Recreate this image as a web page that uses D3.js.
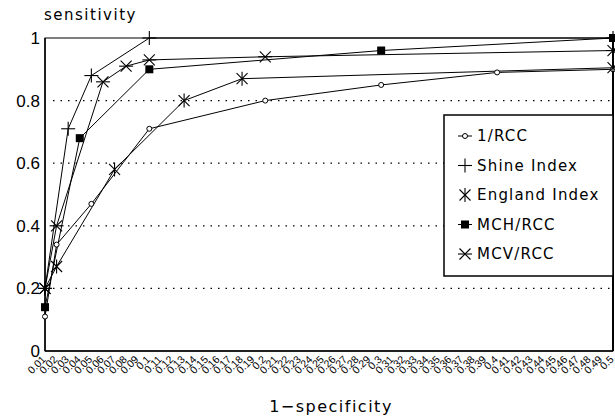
<!DOCTYPE html>
<html>
<head>
<meta charset="utf-8">
<script src="https://cdn.jsdelivr.net/npm/d3@7"></script>
<style>
  body { margin: 0; background: #fff; }
  svg { font-family: "DejaVu Sans", sans-serif; }
</style>
</head>
<body>
<div id="chart"></div>
<script>
// x categories (1 - specificity)
const xCats = ['0.01','0.02','0.03','0.04','0.05','0.06','0.07','0.08','0.09','0.1',
  '0.11','0.12','0.13','0.14','0.15','0.16','0.17','0.18','0.19','0.2',
  '0.21','0.22','0.23','0.24','0.25','0.26','0.27','0.28','0.29','0.3',
  '0.31','0.32','0.33','0.34','0.35','0.36','0.37','0.38','0.39','0.4',
  '0.41','0.42','0.43','0.44','0.45','0.46','0.47','0.48','0.49','0.5']
const yTicks = [0, 0.2, 0.4, 0.6, 0.8, 1]

// series: [x category, sensitivity]
const rcc = [['0.01', 0.11], ['0.02', 0.34], ['0.05', 0.47], ['0.1', 0.71], ['0.2', 0.8], ['0.3', 0.85], ['0.4', 0.89], ['0.5', 0.9]]
const shine = [['0.01', 0.2], ['0.03', 0.71], ['0.05', 0.88], ['0.1', 1], ['0.5', 1]]
const england = [['0.01', 0.2], ['0.02', 0.27], ['0.07', 0.58], ['0.13', 0.8], ['0.18', 0.87], ['0.5', 0.905]]
const mch = [['0.01', 0.14], ['0.04', 0.68], ['0.1', 0.9], ['0.3', 0.96], ['0.5', 1]]
const mcv = [['0.01', 0.2], ['0.02', 0.4], ['0.06', 0.86], ['0.08', 0.91], ['0.1', 0.93], ['0.2', 0.94], ['0.5', 0.96]]

const seriesNames = ['1/RCC', 'Shine Index', 'England Index', 'MCH/RCC', 'MCV/RCC']
const seriesData = [rcc, shine, england, mch, mcv]
const markerTypes = ['circle', 'plus', 'england', 'square', 'mcv']

const width = 615, height = 420
const margin = { top: 38, right: 2, bottom: 69, left: 45 }

const svg = d3.select('#chart').append('svg')
  .attr('width', width)
  .attr('height', height)

const x = d3.scalePoint().domain(xCats).range([margin.left, width - margin.right])
const y = d3.scaleLinear().domain([0, 1]).range([height - margin.bottom, margin.top])

// dotted gridlines
svg.append('g')
  .selectAll('line')
  .data([0.2, 0.4, 0.6, 0.8])
  .join('line')
  .attr('x1', margin.left + 8)
  .attr('x2', width - margin.right)
  .attr('y1', (d) => y(d))
  .attr('y2', (d) => y(d))
  .attr('stroke', '#000')
  .attr('stroke-width', 1.2)
  .attr('stroke-dasharray', '1.5,6')

// frame
svg.append('rect')
  .attr('x', margin.left)
  .attr('y', y(1))
  .attr('width', x('0.5') - margin.left)
  .attr('height', y(0) - y(1))
  .attr('fill', 'none')
  .attr('stroke', '#000')
  .attr('stroke-width', 1)
svg.append('line')
  .attr('x1', x('0.5')).attr('x2', x('0.5'))
  .attr('y1', y(1)).attr('y2', y(0))
  .attr('stroke', '#000').attr('stroke-width', 2)
svg.append('line')
  .attr('x1', margin.left).attr('x2', margin.left)
  .attr('y1', y(1)).attr('y2', y(0))
  .attr('stroke', '#000').attr('stroke-width', 1.5)
svg.append('line')
  .attr('x1', margin.left).attr('x2', x('0.5'))
  .attr('y1', y(0)).attr('y2', y(0))
  .attr('stroke', '#000').attr('stroke-width', 1.5)

// y axis
const yAxis = svg.append('g')
  .attr('transform', `translate(${margin.left},0)`)
  .call(d3.axisLeft(y).tickValues(yTicks).tickSize(0).tickPadding(5).tickFormat(d3.format('')))
yAxis.select('.domain').remove()
yAxis.selectAll('text')
  .attr('font-size', 17)
  .attr('fill', '#000')

// x axis
const xAxis = svg.append('g')
  .attr('transform', `translate(0,${y(0)})`)
  .call(d3.axisBottom(x).tickSize(0).tickPadding(0))
xAxis.select('.domain').remove()
xAxis.selectAll('text')
  .attr('font-size', 10.5)
  .attr('fill', '#000')
  .attr('text-anchor', 'end')
  .attr('dy', 0)
  .attr('transform', 'translate(1,9) rotate(-45)')

// titles
svg.append('text')
  .attr('x', 44)
  .attr('y', 20)
  .attr('font-size', 15)
  .attr('letter-spacing', 1.5)
  .text('sensitivity')
svg.append('text')
  .attr('x', 331)
  .attr('y', 412)
  .attr('text-anchor', 'middle')
  .attr('font-size', 16)
  .attr('letter-spacing', 1.5)
  .text('1\u2212specificity')

// marker drawing
function drawMarker(g, type) {
  if (type === 'circle') {
    g.append('circle').attr('r', 2.5).attr('fill', '#fff').attr('stroke', '#000').attr('stroke-width', 1)
  } else if (type === 'square') {
    g.append('rect').attr('x', -4).attr('y', -4).attr('width', 8).attr('height', 8).attr('fill', '#000')
  } else {
    const s = 7, d = 5.5
    const segs = []
    if (type === 'plus') {
      segs.push([-s, 0, s, 0], [0, -s, 0, s])
    } else {
      segs.push([-d, -d, d, d], [-d, d, d, -d])
      if (type === 'england') segs.push([0, -s, 0, s])
      if (type === 'mcv') segs.push([-s, 0, s, 0])
    }
    g.selectAll('line.m')
      .data(segs)
      .join('line')
      .attr('x1', (p) => p[0]).attr('y1', (p) => p[1])
      .attr('x2', (p) => p[2]).attr('y2', (p) => p[3])
      .attr('stroke', '#000')
      .attr('stroke-width', 1.1)
  }
}

const line = d3.line()
  .x((d) => x(d[0]))
  .y((d) => y(d[1]))

seriesData.forEach((data, i) => {
  svg.append('path')
    .datum(data)
    .attr('d', line)
    .attr('fill', 'none')
    .attr('stroke', '#000')
    .attr('stroke-width', 1)
})
seriesData.forEach((data, i) => {
  svg.append('g')
    .selectAll('g')
    .data(data)
    .join('g')
    .attr('transform', (d) => `translate(${x(d[0])},${y(d[1])})`)
    .each(function () { drawMarker(d3.select(this), markerTypes[i]) })
})

// legend
const legend = svg.append('g')
const lx = 444, ly = 115, lw = x('0.5') - 444, lh = 161
legend.append('rect')
  .attr('x', lx).attr('y', ly)
  .attr('width', lw).attr('height', lh)
  .attr('fill', '#fff')
  .attr('stroke', '#000')
  .attr('stroke-width', 1.5)
seriesNames.forEach((name, i) => {
  const cy = ly + 21 + i * 29.5
  const g = legend.append('g').attr('transform', `translate(${lx + 21},${cy})`)
  if (markerTypes[i] === 'circle' || markerTypes[i] === 'square') {
    g.append('line').attr('x1', -7).attr('x2', 7).attr('stroke', '#000').attr('stroke-width', 1)
  }
  drawMarker(g, markerTypes[i])
  legend.append('text')
    .attr('x', lx + 33)
    .attr('y', cy)
    .attr('dy', '0.36em')
    .attr('font-size', 15)
    .attr('letter-spacing', 1.2)
    .text(name)
})
</script>
</body>
</html>
